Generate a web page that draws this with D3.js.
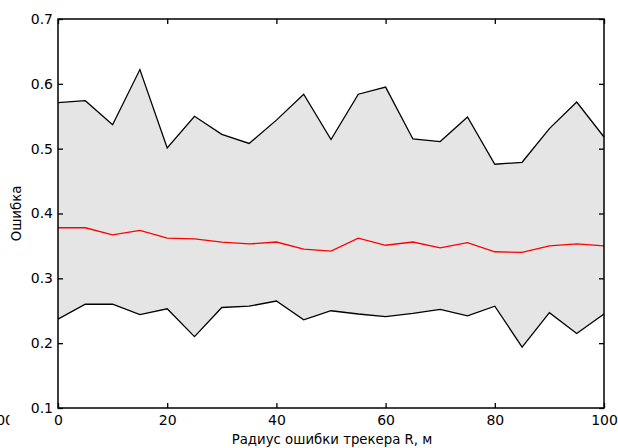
<!DOCTYPE html>
<html><head><meta charset="utf-8">
<script src="https://cdn.jsdelivr.net/npm/d3@7"></script>
<style>body{margin:0;background:#fff}text{font-family:"DejaVu Sans",Verdana,sans-serif;font-size:13.3px;fill:#000}.tick text,.stray{font-size:14px}</style>
</head><body><svg id="c" width="618" height="448"></svg>
<script>
const radius = [0,5,10,15,20,25,30,35,40,45,50,55,60,65,70,75,80,85,90,95,100];
const upper = [0.571,0.574,0.537,0.622,0.501,0.550,0.522,0.508,0.544,0.584,0.514,0.584,0.595,0.515,0.511,0.549,0.476,0.479,0.531,0.572,0.518];
const lower = [0.237,0.260,0.260,0.244,0.253,0.210,0.255,0.257,0.265,0.236,0.250,0.245,0.241,0.246,0.252,0.242,0.257,0.194,0.247,0.215,0.245];
const mean  = [0.378,0.378,0.367,0.374,0.362,0.361,0.356,0.353,0.356,0.345,0.342,0.362,0.351,0.356,0.347,0.355,0.341,0.340,0.350,0.353,0.350];
const xTicks = [0,20,40,60,80,100];
const yTicks = [0.1,0.2,0.3,0.4,0.5,0.6,0.7];
const xLabel = "Радиус ошибки трекера R, м";
const yLabel = "Ошибка";
const strayLabel = "100";

const svg = d3.select("#c");
const L=58, R=604, T=19, B=408;
const x = d3.scaleLinear().domain([0,100]).range([L,R]);
const y = d3.scaleLinear().domain([0.1,0.7]).range([B,T]);
const data = radius.map((r,i)=>({r, u:upper[i], l:lower[i], m:mean[i]}));

svg.append("defs").append("clipPath").attr("id","strayClip")
  .append("rect").attr("x",0).attr("y",395).attr("width",9.5).attr("height",40);

svg.append("path").datum(data)
  .attr("d", d3.area().x(d=>x(d.r)).y0(d=>y(d.l)).y1(d=>y(d.u)))
  .attr("fill","#e5e5e5");
svg.append("path").datum(data).attr("fill","none").attr("stroke","#000").attr("stroke-width",1.3)
  .attr("d", d3.line().x(d=>x(d.r)).y(d=>y(d.u)));
svg.append("path").datum(data).attr("fill","none").attr("stroke","#000").attr("stroke-width",1.3)
  .attr("d", d3.line().x(d=>x(d.r)).y(d=>y(d.l)));
svg.append("path").datum(data).attr("fill","none").attr("stroke","#ff0000").attr("stroke-width",1.3)
  .attr("d", d3.line().x(d=>x(d.r)).y(d=>y(d.m)));

svg.append("rect").attr("x",L).attr("y",T).attr("width",R-L).attr("height",B-T)
  .attr("fill","none").attr("stroke","#000").attr("stroke-width",1.5);

const tk = 5;
const gBot = svg.append("g").attr("transform",`translate(0,${B})`)
  .call(d3.axisBottom(x).tickValues(xTicks).tickSize(-tk).tickPadding(7).tickFormat(d3.format("d")));
const gTop = svg.append("g").attr("transform",`translate(0,${T})`)
  .call(d3.axisTop(x).tickValues(xTicks).tickSize(-tk).tickFormat(""));
const gLeft = svg.append("g").attr("transform",`translate(${L},0)`)
  .call(d3.axisLeft(y).tickValues(yTicks).tickSize(-tk).tickPadding(5).tickFormat(d3.format(".1f")));
const gRight = svg.append("g").attr("transform",`translate(${R},0)`)
  .call(d3.axisRight(y).tickValues(yTicks).tickSize(-tk).tickFormat(""));
[gBot,gTop,gLeft,gRight].forEach(g=>{
  g.select(".domain").remove();
  g.selectAll("line").attr("stroke","#000").attr("stroke-width",1.3);
  g.selectAll("text").attr("font-family",null).attr("font-size",null).attr("fill","#000");
});

svg.append("text").attr("class","stray").attr("clip-path","url(#strayClip)")
  .attr("x",14).attr("y",B+7).attr("dy","0.71em").attr("text-anchor","end").text(strayLabel);
svg.append("text").attr("x",(L+R)/2+1).attr("y",444).attr("text-anchor","middle").text(xLabel);
svg.append("text").attr("transform",`translate(21,${(T+B)/2}) rotate(-90)`).attr("text-anchor","middle").text(yLabel);
</script></body></html>
